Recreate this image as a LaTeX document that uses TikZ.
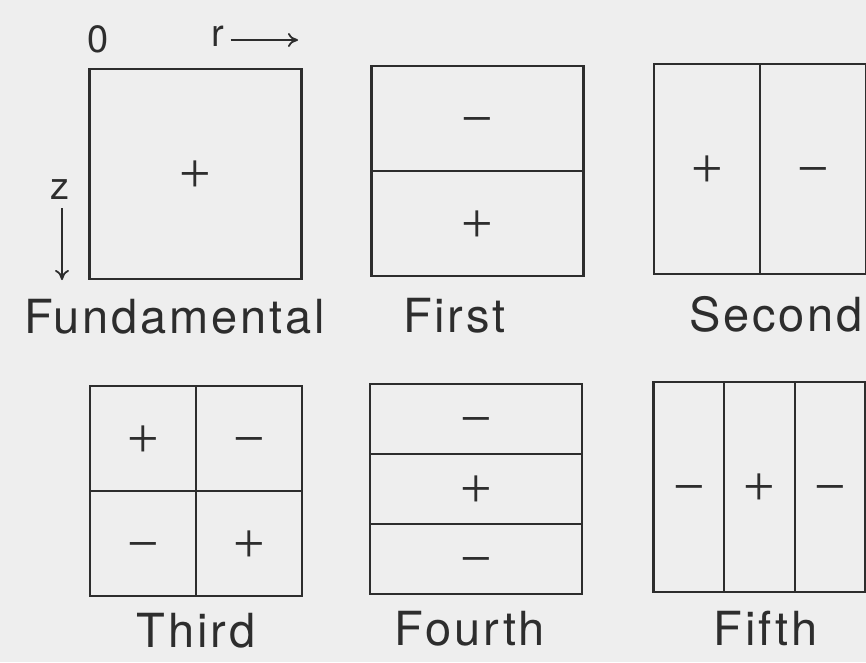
\documentclass[tikz,border=0pt]{standalone}
\usepackage{fontspec}
\setmainfont{TeX Gyre Heros}
\newfontfamily\signfont{Liberation Serif}
\usetikzlibrary{arrows.meta, positioning, calc}
\definecolor{inkgray}{RGB}{45,45,45}
\definecolor{paper}{RGB}{238,238,238}
\tikzset{
  mode/.style={
    draw=inkgray,
    line width=2.4pt,
    minimum width=212pt,
    minimum height=210pt,
    inner sep=0pt,
    outer sep=0pt
  },
  divider/.style={draw=inkgray, line width=2.2pt},
  sign/.style={
    text=inkgray,
    inner sep=0pt,
    text height=29pt,
    text depth=0pt,
    yshift=-4pt,
    font=\signfont\fontsize{56}{56}\selectfont
  },
  modename/.style={
    text=inkgray,
    inner sep=0pt,
    font=\fontsize{47}{47}\selectfont\addfontfeature{LetterSpace=6}
  },
  axisname/.style={text=inkgray, inner sep=0pt, font=\fontsize{38}{38}\selectfont},
  axisarrow/.style={-{To[length=10pt,width=14pt]}, draw=inkgray, line width=1.8pt}
}
\newcommand{\plus}{+}
\newcommand{\minus}{−}

\begin{document}
\begin{tikzpicture}[x=1pt, y=-1pt]
\useasboundingbox[fill=paper] (0,0) rectangle (866,662);

% top row
\node[mode] (fund)   at (195.5,174) {};
\node[mode] (first)  at (477.5,171) {};
\node[mode] (second) at (760,169) {};
% bottom row
\node[mode] (third)  at (196,491) {};
\node[mode] (fourth) at (476,489) {};
\node[mode] (fifth)  at (759.5,487) {};

% dividers
\draw[divider] (first.west) -- (first.east);
\draw[divider] (second.north) -- (second.south);
\draw[divider] (third.west) -- (third.east);
\draw[divider] (third.north) -- (third.south);
\draw[divider] ($(fourth.north west)!1/3!(fourth.south west)$) -- ($(fourth.north east)!1/3!(fourth.south east)$);
\draw[divider] ($(fourth.north west)!2/3!(fourth.south west)$) -- ($(fourth.north east)!2/3!(fourth.south east)$);
\draw[divider] ($(fifth.north west)!1/3!(fifth.north east)$) -- ($(fifth.south west)!1/3!(fifth.south east)$);
\draw[divider] ($(fifth.north west)!2/3!(fifth.north east)$) -- ($(fifth.south west)!2/3!(fifth.south east)$);

% signs
\node[sign] (s0)  at (fund.center) {\plus};
\node[sign] (s1a) at ($(first.center)!0.5!(first.north)$) {\minus};
\node[sign] (s1b) at ($(first.center)!0.5!(first.south)$) {\plus};
\node[sign] (s2a) at ($(second.center)!0.5!(second.west)$) {\plus};
\node[sign] (s2b) at ($(second.center)!0.5!(second.east)$) {\minus};
\node[sign] (s3a) at ($(third.center)!0.5!(third.north west)$) {\plus};
\node[sign] (s3b) at ($(third.center)!0.5!(third.north east)$) {\minus};
\node[sign] (s3c) at ($(third.center)!0.5!(third.south west)$) {\minus};
\node[sign] (s3d) at ($(third.center)!0.5!(third.south east)$) {\plus};
\node[sign] (s4a) at ($(fourth.center)!2/3!(fourth.north)$) {\minus};
\node[sign] (s4b) at (fourth.center) {\plus};
\node[sign] (s4c) at ($(fourth.center)!2/3!(fourth.south)$) {\minus};
\node[sign] (s5a) at ($(fifth.center)!2/3!(fifth.west)$) {\minus};
\node[sign] (s5b) at (fifth.center) {\plus};
\node[sign] (s5c) at ($(fifth.center)!2/3!(fifth.east)$) {\minus};

% mode names
\node[modename, anchor=north, below=20pt of fund, xshift=-21pt] (nfund) {Fundamental};
\node[modename, anchor=north, below=22pt of first, xshift=-23pt] (nfirst) {First};
\node[modename, anchor=north, below=22pt of second, xshift=16pt] (nsecond) {Second};
\node[modename, anchor=north, below=17pt of third] (nthird) {Third};
\node[modename, anchor=north, below=17pt of fourth, xshift=-6pt] (nfourth) {Fourth};
\node[modename, anchor=north, below=19pt of fifth, xshift=6pt] (nfifth) {Fifth};

% axes
\node[axisname] (origin) at (98,39) {0};
\node[axisname] (rname) at (218,36) {r};
\coordinate (rend) at (298,40);
\draw[axisarrow] ([xshift=6pt]rname.east |- rend) -- (rend);
\node[axisname] (zname) at (60,190) {z};
\coordinate (zend) at (62,280);
\draw[axisarrow] ([yshift=-8pt]zname.south -| zend) -- (zend);
\end{tikzpicture}
\end{document}
